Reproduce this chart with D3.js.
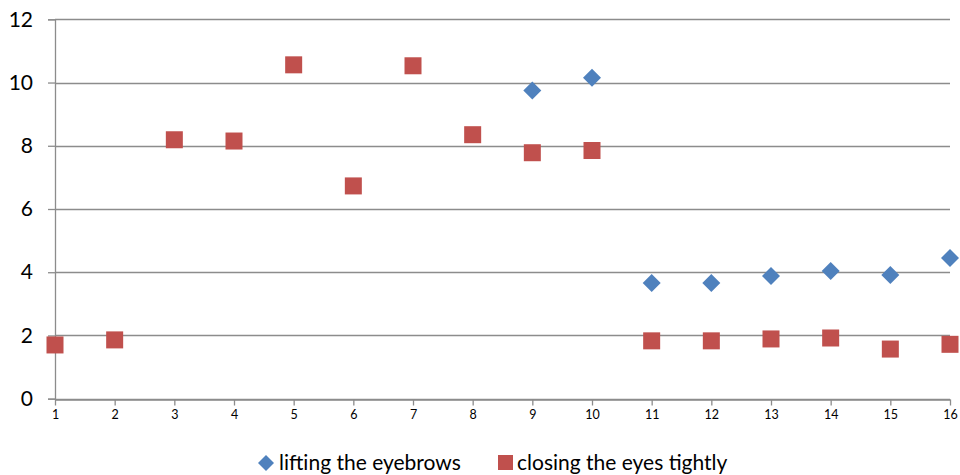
<!DOCTYPE html>
<html><head><meta charset="utf-8">
<script src="https://cdn.jsdelivr.net/npm/d3@7"></script>
<style>body{margin:0;background:#fff}svg{display:block}text{font-family:Lato,"Open Sans",sans-serif;fill:#000}</style>
</head><body><svg id="c" width="960" height="475"></svg>
<script>
const xValues = [1,2,3,4,5,6,7,8,9,10,11,12,13,14,15,16];
const eyebrows = [null,null,null,null,null,null,null,null,9.75,10.15,3.66,3.66,3.88,4.04,3.91,4.45];
const eyesClosed = [1.70,1.86,8.19,8.15,10.56,6.73,10.53,8.35,7.78,7.85,1.83,1.83,1.89,1.92,1.57,1.72];
const yTicks = [0,2,4,6,8,10,12];
const seriesNames = ["lifting the eyebrows","closing the eyes tightly"];
const colors = ["#4F81BD","#C0504D"];

const svg = d3.select("#c");
const x = d3.scaleLinear().domain([1,16]).range([55,950]);
const y = d3.scaleLinear().domain([0,12]).range([398.7,19.3]);
const grid = "#8c8c8c";

// gridlines
svg.append("g").selectAll("line").data(yTicks).join("line")
  .attr("x1",x(1)).attr("x2",x(16)).attr("y1",d=>Math.round(y(d))+0.5).attr("y2",d=>Math.round(y(d))+0.5)
  .attr("stroke",grid).attr("stroke-width",1.3);

// y axis
const ya = svg.append("g").attr("transform",`translate(${x(1)},0)`)
  .call(d3.axisLeft(y).tickValues(yTicks).tickSize(7).tickPadding(15));
ya.select(".domain").attr("stroke",grid).attr("stroke-width",1.3);
ya.selectAll(".tick line").attr("stroke",grid).attr("stroke-width",1.3);
ya.selectAll("text").style("font-size","21px").style("font-family","Lato, sans-serif");

// x axis
const xa = svg.append("g").attr("transform",`translate(0,${Math.round(y(0))+0.5})`)
  .call(d3.axisBottom(x).tickValues(xValues).tickSize(6).tickPadding(5).tickSizeOuter(0));
xa.select(".domain").attr("stroke",grid).attr("stroke-width",1.3);
xa.selectAll(".tick line").attr("stroke",grid).attr("stroke-width",1.3);
xa.selectAll("text").style("font-size","12.5px").style("font-family","Lato, sans-serif");

// series 1: diamonds
const dsz = 9;
svg.append("g").selectAll("path").data(xValues.map((v,i)=>[v,eyebrows[i]]).filter(d=>d[1]!=null)).join("path")
  .attr("d",`M0,${-dsz}L${dsz},0L0,${dsz}L${-dsz},0Z`)
  .attr("transform",d=>`translate(${x(d[0])},${y(d[1])})`)
  .attr("fill",colors[0]);

// series 2: squares
const s = 17;
svg.append("g").selectAll("rect").data(xValues.map((v,i)=>[v,eyesClosed[i]])).join("rect")
  .attr("x",d=>x(d[0])-s/2).attr("y",d=>y(d[1])-s/2).attr("width",s).attr("height",s)
  .attr("fill",colors[1]);

// legend
const lg = svg.append("g");
lg.append("path").attr("d","M0,-8L8,0L0,8L-8,0Z").attr("transform","translate(266,463)").attr("fill",colors[0]);
lg.append("text").attr("x",279).attr("y",470).style("font-size","21px").text(seriesNames[0]);
lg.append("rect").attr("x",498).attr("y",455).attr("width",15).attr("height",15).attr("fill",colors[1]);
lg.append("text").attr("x",517).attr("y",470).style("font-size","21px").text(seriesNames[1]);
</script></body></html>
